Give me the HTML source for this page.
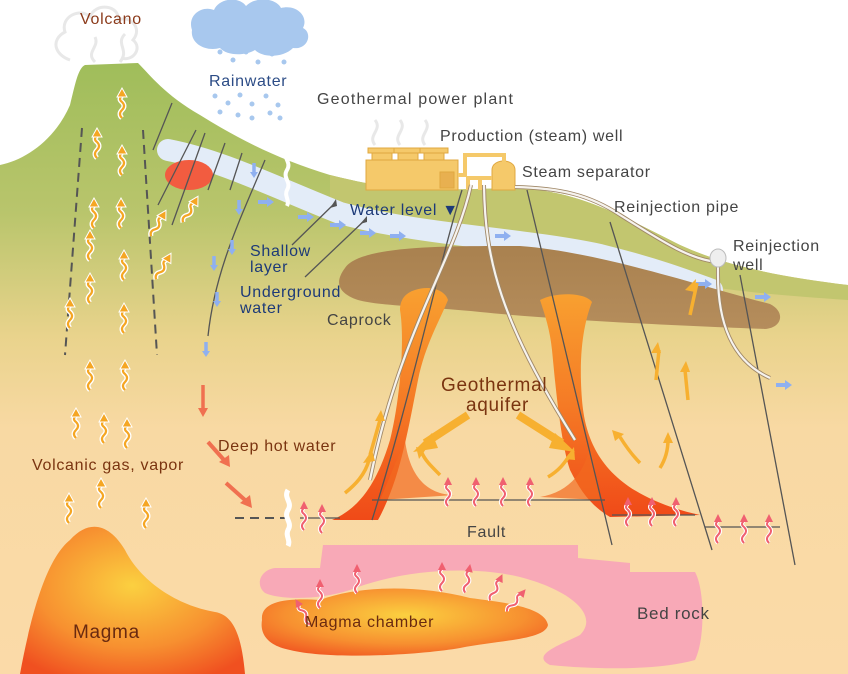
<!DOCTYPE html>
<html><head><meta charset="utf-8"><style>
html,body{margin:0;padding:0;background:#fff;}
svg{display:block;font-family:"Liberation Sans",sans-serif;}
</style></head><body>
<svg width="848" height="674" viewBox="0 0 848 674" xmlns="http://www.w3.org/2000/svg">
<defs>
<linearGradient id="g1" x1="0" y1="60" x2="0" y2="674" gradientUnits="userSpaceOnUse">
<stop offset="0" stop-color="#9fbd5a"/><stop offset="0.25" stop-color="#b9c56c"/><stop offset="0.45" stop-color="#e9d38c"/><stop offset="0.6" stop-color="#f8d9a3"/><stop offset="1" stop-color="#fbdaa8"/>
</linearGradient>
<linearGradient id="cap" x1="0" y1="0" x2="0" y2="1"><stop offset="0" stop-color="#a9814f"/><stop offset="1" stop-color="#b58d5c"/></linearGradient>
<radialGradient id="mag" cx="0.5" cy="0.4" r="0.7"><stop offset="0" stop-color="#fbd040"/><stop offset="0.6" stop-color="#f79030"/><stop offset="1" stop-color="#f05020"/></radialGradient>
<linearGradient id="col" x1="0" y1="0" x2="0" y2="1"><stop offset="0" stop-color="#f8a030"/><stop offset="0.5" stop-color="#f57a25"/><stop offset="1" stop-color="#f04a18"/></linearGradient>
<g id="sq"><path d="M0,28 q-4,-4 0,-8 q4,-4 0,-8 q-4,-3 0,-6" fill="none" stroke="#fff" stroke-width="5"/><path d="M0,28 q-4,-4 0,-8 q4,-4 0,-8 q-4,-3 0,-6" fill="none" stroke="#f5a623" stroke-width="2.2"/><polygon points="-5,7 0,-2 5,7" fill="#f5a623" stroke="#fff" stroke-width="1"/></g>
<g id="sqr"><path d="M0,28 q-4,-4 0,-8 q4,-4 0,-8 q-4,-3 0,-6" fill="none" stroke="#fff" stroke-width="4"/><path d="M0,28 q-4,-4 0,-8 q4,-4 0,-8 q-4,-3 0,-6" fill="none" stroke="#f06070" stroke-width="2"/><polygon points="-4,7 0,-1 4,7" fill="#f06070"/></g>
<g id="bdn"><path d="M0,0 L0,10" stroke="#8fb0f0" stroke-width="3.5"/><polygon points="-4,9 4,9 0,15" fill="#8fb0f0"/></g>
<g id="brt"><path d="M0,0 L10,0" stroke="#8fb0f0" stroke-width="4"/><polygon points="9,-5 9,5 16,0" fill="#8fb0f0"/></g>
</defs>

<g fill="none" stroke="#e8e8e8" stroke-width="3">
<path d="M70,60 c-15,-5 -20,-20 -5,-28 c-5,-15 15,-25 25,-15 c5,-15 30,-12 28,3 c12,-5 25,8 15,20 c10,8 0,22 -12,18"/>
<path d="M95,62 c-10,-10 5,-15 0,-25 M120,62 c10,-12 -5,-18 5,-28"/>
<path d="M375,145 c-8,-10 8,-15 0,-25 M400,145 c-8,-10 8,-15 0,-25 M425,145 c-8,-10 8,-15 0,-25"/>
</g>
<path d="M192,30 c-5,-15 10,-25 22,-20 c5,-12 25,-14 32,-4 c10,-10 30,-8 35,2 c15,-4 28,8 22,20 c10,5 5,22 -10,20 c-10,10 -30,10 -38,2 c-10,6 -28,6 -35,-2 c-15,4 -30,-5 -28,-18z" fill="#a8c8ee"/>
<g fill="#a8c8ee">
<circle cx="220" cy="52" r="2.5"/><circle cx="233" cy="60" r="2.5"/><circle cx="246" cy="52" r="2.5"/><circle cx="258" cy="62" r="2.5"/><circle cx="272" cy="54" r="2.5"/><circle cx="284" cy="62" r="2.5"/>
<circle cx="215" cy="96" r="2.5"/><circle cx="228" cy="103" r="2.5"/><circle cx="240" cy="95" r="2.5"/><circle cx="252" cy="104" r="2.5"/><circle cx="266" cy="96" r="2.5"/><circle cx="278" cy="105" r="2.5"/>
<circle cx="220" cy="112" r="2.5"/><circle cx="238" cy="115" r="2.5"/><circle cx="252" cy="118" r="2.5"/><circle cx="270" cy="113" r="2.5"/><circle cx="280" cy="118" r="2.5"/>
</g>

<path d="M0,165 C25,160 55,140 70,105 C75,85 78,68 85,65 L138,63 C150,75 165,95 200,115 C240,140 280,160 330,175 C370,185 400,190 430,190 L520,188 C580,192 620,215 680,245 C730,268 790,278 848,285 L848,674 L0,674 Z" fill="url(#g1)"/>
<path d="M330,175 C370,185 400,190 430,190 L520,188 C580,192 620,215 680,245 C730,268 790,278 848,285 L848,300 C790,296 740,292 700,285 C640,270 590,245 520,230 C450,225 380,222 330,210 Z" fill="#c2c66f"/>
<path d="M168,150 C220,160 270,185 340,213 C420,235 520,238 600,255 C660,270 690,282 712,290" fill="none" stroke="#e3ecf8" stroke-width="22" stroke-linecap="round"/>
<path d="M345,268 C360,245 450,246 520,246 C600,252 700,286 770,304 C786,312 782,328 765,329 C680,326 560,320 480,312 C420,306 380,306 358,300 C335,292 336,280 345,268Z" fill="url(#cap)"/>
<ellipse cx="189" cy="175" rx="24" ry="15" fill="#f25c40"/>

<path d="M415,290 C430,285 445,290 448,300 C440,320 425,345 418,380 C408,430 400,480 378,520 L332,520 C355,510 375,490 390,440 C400,400 405,340 400,310 C400,300 405,293 415,290Z" fill="url(#col)"/>
<path d="M540,300 C555,292 585,292 592,302 C585,320 578,350 582,400 C586,450 610,495 700,515 L610,517 C590,505 580,490 570,470 C560,440 555,380 552,350 C550,330 545,315 540,300Z" fill="url(#col)"/>
<path d="M405,440 C410,480 430,495 455,495 L380,500Z" fill="#f26a20" opacity="0.7"/>
<path d="M590,440 C588,470 570,492 540,497 L600,500Z" fill="#f26a20" opacity="0.7"/>

<g stroke="#555" stroke-width="1.3" fill="none">
<path d="M172,103 L153,150 M196,130 L158,205 M205,133 L172,225 M225,143 L208,190 M242,153 L230,190 M265,160 C240,220 215,270 208,336"/>
<path d="M462,190 C440,260 410,400 372,520 M527,190 L612,545 M610,222 L712,550 M740,275 L795,565"/>
<path d="M372,500 L605,500 M612,515 L695,515 M705,527 L780,527 M300,518 L340,518"/>
</g>
<g stroke="#555" stroke-width="2" stroke-dasharray="9,6" fill="none">
<path d="M82,128 L65,355 M143,130 L157,355 M235,518 L290,518"/>
</g>
<path d="M287,150 c-5,8 5,12 0,20 c-5,8 5,12 0,20 c-3,6 3,10 0,16" fill="none" stroke="#fff" stroke-width="4"/>
<path d="M288,490 c-5,8 5,12 0,20 c-5,8 5,12 0,20 c-3,6 3,10 0,16" fill="none" stroke="#fff" stroke-width="5"/>

<path d="M323,545 L578,545 L578,558 L630,563 L630,572 L695,572 C705,590 705,640 695,660 C660,670 600,670 550,665 C530,655 560,645 580,635 C600,615 570,590 520,577 C470,565 400,570 350,590 C320,600 280,600 265,593 C255,585 260,570 275,568 L320,568 Z" fill="#f8a9b7"/>
<path d="M262,620 C260,600 290,598 320,600 C360,585 420,585 470,598 C510,603 545,608 548,625 C545,640 500,640 460,648 C420,655 330,660 290,650 C265,645 260,632 262,620Z" fill="url(#mag)"/>
<path d="M20,674 C30,620 45,560 70,540 C90,518 110,525 125,550 C140,580 175,605 215,612 C235,615 242,640 245,674Z" fill="url(#mag)"/>

<g fill="#f5c96a" stroke="#e0a840" stroke-width="1">
<rect x="366" y="160" width="92" height="30"/>
<rect x="372" y="152" width="20" height="8"/><rect x="398" y="152" width="20" height="8"/><rect x="424" y="152" width="20" height="8"/>
<rect x="368" y="148" width="28" height="5"/><rect x="394" y="148" width="28" height="5"/><rect x="420" y="148" width="28" height="5"/>
<rect x="440" y="172" width="14" height="16" fill="#e8b050"/>
<path d="M492,190 L492,170 C492,158 515,158 515,170 L515,190Z"/>
</g>
<path d="M458,175 L465,175 L465,155 L504,155 L504,165" fill="none" stroke="#f5c96a" stroke-width="4"/>
<path d="M468,190 L468,178 L492,178 M480,190 L480,178" fill="none" stroke="#f5c96a" stroke-width="4"/>
<g fill="none" stroke="#a08868" stroke-width="4"><path d="M515,187 C560,188 590,195 620,215 C660,240 690,260 718,262 L718,275 C718,320 730,360 770,378"/><path d="M471,185 C455,260 400,330 370,480"/><path d="M484,185 C485,260 500,320 575,440"/></g>
<g fill="none" stroke="#f6f3ee" stroke-width="2.2"><path d="M515,187 C560,188 590,195 620,215 C660,240 690,260 718,262 L718,275 C718,320 730,360 770,378"/><path d="M471,185 C455,260 400,330 370,480"/><path d="M484,185 C485,260 500,320 575,440"/></g>
<ellipse cx="718" cy="258" rx="8" ry="9" fill="#eee" stroke="#bbb"/>

<use href="#bdn" x="254" y="163"/><use href="#bdn" x="239" y="200"/><use href="#bdn" x="232" y="240"/><use href="#bdn" x="214" y="256"/><use href="#bdn" x="217" y="292"/><use href="#bdn" x="206" y="342"/>
<use href="#brt" x="258" y="202"/><use href="#brt" x="298" y="217"/><use href="#brt" x="330" y="225"/><use href="#brt" x="360" y="233"/><use href="#brt" x="390" y="236"/><use href="#brt" x="495" y="236"/><use href="#brt" x="696" y="284"/><use href="#brt" x="755" y="297"/><use href="#brt" x="776" y="385"/>
<path d="M203,385 L203,410" stroke="#f07050" stroke-width="3.5"/><polygon points="198,408 208,408 203,417" fill="#f07050"/>
<path d="M208,442 L224,460" stroke="#f07050" stroke-width="4"/><polygon points="219,462 229,455 230,467" fill="#f07050"/>
<path d="M226,483 L245,500" stroke="#f07050" stroke-width="4"/><polygon points="240,503 250,495 252,508" fill="#f07050"/>
<g stroke="#555" stroke-width="1.3"><path d="M292,245 L334,204 M305,277 L365,220"/></g>
<polygon points="336,199 330,208 337,206" fill="#555"/><polygon points="367,216 360,224 367,222" fill="#555"/>

<use href="#sq" x="122" y="90"/><use href="#sq" x="97" y="130"/><use href="#sq" x="122" y="147"/><use href="#sq" x="94" y="200"/><use href="#sq" x="121" y="200"/><use href="#sq" x="124" y="252"/><use href="#sq" x="90" y="275"/><use href="#sq" x="124" y="305"/><use href="#sq" x="90" y="362"/><use href="#sq" x="125" y="362"/><use href="#sq" x="76" y="410"/><use href="#sq" x="104" y="415"/><use href="#sq" x="127" y="420"/><use href="#sq" x="69" y="495"/><use href="#sq" x="101" y="480"/><use href="#sq" x="146" y="500"/><use href="#sq" x="70" y="300"/><use href="#sq" x="90" y="232"/>
<use href="#sq" transform="translate(165,212) rotate(30)"/><use href="#sq" transform="translate(197,198) rotate(30)"/><use href="#sq" transform="translate(170,255) rotate(30)"/>
<use href="#sqr" x="304" y="502"/><use href="#sqr" x="322" y="505"/><use href="#sqr" x="448" y="478"/><use href="#sqr" x="476" y="478"/><use href="#sqr" x="503" y="478"/><use href="#sqr" x="530" y="478"/>
<use href="#sqr" x="628" y="498"/><use href="#sqr" x="652" y="498"/><use href="#sqr" x="676" y="498"/><use href="#sqr" x="718" y="515"/><use href="#sqr" x="744" y="515"/><use href="#sqr" x="769" y="515"/>
<use href="#sqr" transform="translate(296,600) rotate(-30)"/><use href="#sqr" x="320" y="580"/><use href="#sqr" x="357" y="565"/><use href="#sqr" x="442" y="563"/><use href="#sqr" transform="translate(470,565) rotate(10)"/><use href="#sqr" transform="translate(502,575) rotate(25)"/><use href="#sqr" transform="translate(525,590) rotate(40)"/>
<g fill="none" stroke="#f7b030" stroke-width="3.5">
<path d="M345,493 C355,485 365,475 369,460"/><path d="M370,455 L380,420"/><path d="M440,475 C430,465 425,460 422,453"/><path d="M548,477 C560,470 565,462 570,455"/><path d="M640,463 C632,455 625,445 620,437"/><path d="M660,468 C665,460 668,450 668,440"/><path d="M688,400 L685,370"/><path d="M690,315 L697,283"/><path d="M656,380 L659,350"/>
</g>
<g fill="#f7b030"><polygon points="363,463 375,461 372,450"/><polygon points="375,421 385,421 381,410"/><polygon points="419,459 426,449 416,447"/><polygon points="565,459 575,460 574,447"/><polygon points="615,441 624,434 612,430"/><polygon points="663,443 673,443 668,432"/><polygon points="680,372 690,372 686,361"/><polygon points="685,290 695,292 696,279"/><polygon points="651,353 661,353 658,342"/></g>
<path d="M468,415 L425,443 M518,415 L562,443" stroke="#f7b030" stroke-width="8"/>
<polygon points="413,452 432,433 438,448" fill="#f7b030"/><polygon points="575,452 555,433 549,448" fill="#f7b030"/>

<g font-size="16" letter-spacing="0.7">
<text x="80" y="24" fill="#8b3a1a">Volcano</text>
<text x="209" y="86" fill="#2c4c86">Rainwater</text>
<text x="317" y="104" fill="#444" letter-spacing="1.2">Geothermal power plant</text>
<text x="440" y="141" fill="#444">Production (steam) well</text>
<text x="522" y="177" fill="#444">Steam separator</text>
<text x="614" y="212" fill="#444">Reinjection pipe</text>
<text x="733" y="251" fill="#444">Reinjection</text>
<text x="733" y="270" fill="#444">well</text>
<text x="350" y="215" fill="#1d3a78">Water level ▼</text>
<text x="250" y="256" fill="#1d3a78">Shallow</text>
<text x="250" y="272" fill="#1d3a78">layer</text>
<text x="240" y="297" fill="#1d3a78">Underground</text>
<text x="240" y="313" fill="#1d3a78">water</text>
<text x="327" y="325" fill="#444">Caprock</text>
<text x="218" y="451" fill="#7a3410">Deep hot water</text>
<text x="32" y="470" fill="#7a3410">Volcanic gas, vapor</text>
<text x="467" y="537" fill="#444">Fault</text>
<text x="305" y="627" fill="#6a2a10">Magma chamber</text>
<text x="637" y="619" fill="#444" font-size="17">Bed rock</text>
<text x="73" y="638" fill="#6a2a10" font-size="19">Magma</text>
<text x="441" y="391" fill="#7a3410" font-size="19">Geothermal</text>
<text x="466" y="411" fill="#7a3410" font-size="19">aquifer</text>
</g>
</svg>
</body></html>
